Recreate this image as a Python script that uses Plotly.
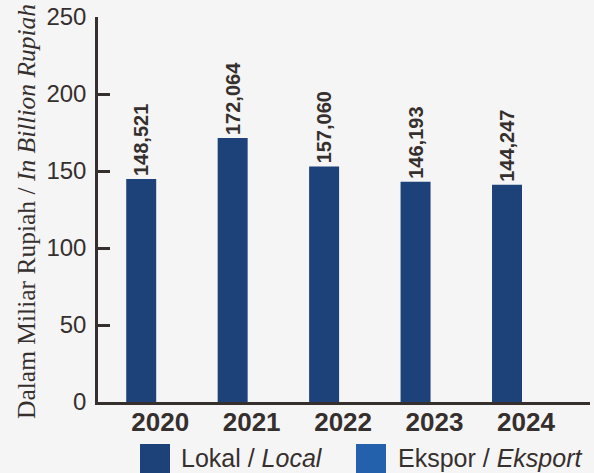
import plotly.graph_objects as go

years = ["2020", "2021", "2022", "2023", "2024"]
lokal = [144.8, 171.4, 153.0, 143.0, 141.0]
ekspor = [0, 0, 0, 0, 0]
lokal_labels = ["148,521", "172,064", "157,060", "146,193", "144,247"]
y_ticks = [0, 50, 100, 150, 200, 250]

LOKAL_C = "#1d4279"
EKSPOR_C = "#2461ad"
TXT = "#352f2e"
AX = "#352f2e"

fig = go.Figure()
fig.add_trace(go.Bar(
    x=years, y=lokal, name="Lokal / <i>Local</i>",
    marker=dict(color=LOKAL_C, line=dict(width=0)),
    text=lokal_labels, textposition="outside", textangle=-90,
    constraintext="none", cliponaxis=False,
    textfont=dict(family="Liberation Sans", size=20, color=TXT, weight="bold"),
    showlegend=False,
))
fig.add_trace(go.Bar(
    x=years, y=ekspor, name="Ekspor / <i>Eksport</i>",
    marker=dict(color=EKSPOR_C, line=dict(width=0)),
    showlegend=False,
))

# custom legend (large swatches)
def px_x(v):
    return (v - 98) / 492
def px_y(v):
    return (402 - v) / 385

for x0, col in [(140, LOKAL_C), (356, EKSPOR_C)]:
    fig.add_shape(type="rect", xref="paper", yref="paper",
                  x0=px_x(x0), x1=px_x(x0 + 30), y0=px_y(474), y1=px_y(444),
                  fillcolor=col, line=dict(width=0), layer="above")
for x0, t in [(179, "Lokal / <i>Local</i>"), (396, "Ekspor / <i>Eksport</i>")]:
    fig.add_annotation(xref="paper", yref="paper", x=px_x(x0), y=px_y(458),
                       xanchor="left", yanchor="middle", showarrow=False,
                       text=t, font=dict(family="Liberation Sans", size=25, color=TXT))

# y-axis title
fig.add_annotation(xref="paper", yref="paper", x=px_x(26), y=px_y(212),
                   xanchor="center", yanchor="middle", showarrow=False, textangle=-90,
                   text="Dalam Miliar Rupiah / <i>In Billion Rupiah</i>",
                   font=dict(family="Liberation Serif", size=25.5, color=TXT))

fig.update_layout(
    width=594, height=473,
    margin=dict(l=98, r=4, t=17, b=71, autoexpand=False),
    paper_bgcolor="#f5f5f5", plot_bgcolor="rgba(0,0,0,0)",
    barmode="group", bargap=0.17, bargroupgap=0.21,
    showlegend=False,
    xaxis=dict(
        range=[-0.68, 4.70], showline=True, linecolor=AX, linewidth=2.5,
        ticks="", showgrid=False, zeroline=False, automargin=False,
        ticklabelstandoff=-5,
        tickfont=dict(family="Liberation Sans", size=26, color=TXT, weight="bold"),
    ),
    yaxis=dict(
        range=[0, 250], tickvals=y_ticks, showline=True, linecolor=AX, linewidth=2.5,
        ticks="inside", ticklen=12, tickwidth=2.5, tickcolor=AX,
        showgrid=False, zeroline=False, ticklabelstandoff=4, automargin=False,
        tickfont=dict(family="Liberation Sans", size=24, color=TXT),
    ),
)

fig.write_html(
    "out.html",
    config={"displayModeBar": False},
    post_script="document.body.style.margin='0';document.body.style.overflow='hidden';",
)
